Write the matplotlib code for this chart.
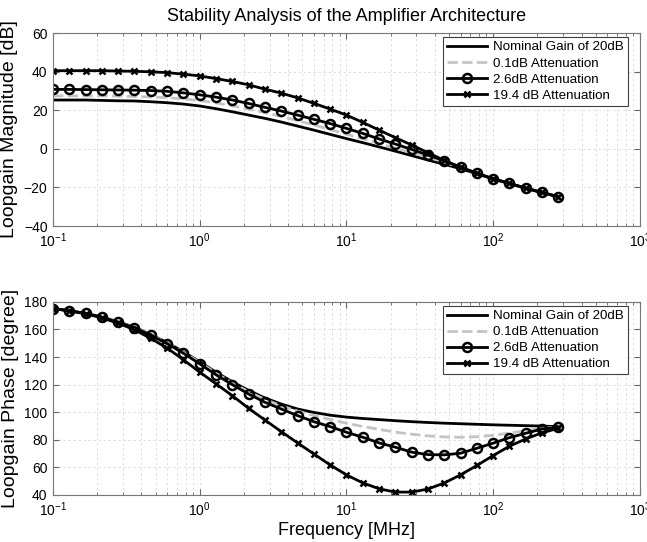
import matplotlib
matplotlib.use("Agg")
import matplotlib.pyplot as plt
from matplotlib.ticker import LogLocator, NullFormatter

plt.rcParams['font.family'] = ['Liberation Sans', 'DejaVu Sans']
plt.rcParams['mathtext.fontset'] = 'custom'
plt.rcParams['mathtext.rm'] = 'Liberation Sans'
plt.rcParams['mathtext.it'] = 'Liberation Sans:italic'

# sweep frequencies [MHz]
freq = [0.1, 0.129, 0.167, 0.215, 0.278, 0.359, 0.464, 0.599, 0.774, 1.0,
        1.29, 1.67, 2.15, 2.78, 3.59, 4.64, 5.99, 7.74, 10.0, 12.9,
        16.7, 21.5, 27.8, 35.9, 46.4, 59.9, 77.4, 100.0, 129.0, 167.0,
        215.0, 278.0]

labels = ['Nominal Gain of 20dB', '0.1dB Attenuation',
          '2.6dB Attenuation', '19.4 dB Attenuation']

# loop gain magnitude [dB]
mag_nom = [25.3, 25.3, 25.3, 25.1, 24.9, 24.8, 24.4, 23.9, 23.2, 22.2,
           20.8, 19.2, 17.5, 15.8, 13.9, 11.8, 9.7, 7.5, 5.3, 3.2,
           1.0, -1.2, -3.5, -5.8, -8.0, -10.3, -12.9, -15.6, -18.0, -20.5,
           -22.7, -24.9]
mag_01 = [27.5, 27.5, 27.4, 27.4, 27.3, 27.1, 26.9, 26.5, 25.9, 25.0,
          23.8, 22.3, 20.6, 18.8, 16.8, 14.6, 12.4, 10.0, 7.6, 5.2,
          2.8, 0.4, -2.0, -4.4, -6.8, -9.8, -12.7, -15.6, -18.0, -20.5,
          -22.7, -24.9]
mag_26 = [30.8, 30.8, 30.7, 30.6, 30.5, 30.4, 30.2, 29.8, 29.0, 28.0,
          26.8, 25.3, 23.5, 21.5, 19.6, 17.5, 15.3, 13.1, 10.6, 8.0,
          5.1, 2.5, -0.3, -3.2, -6.2, -9.5, -12.6, -15.5, -17.9, -20.4,
          -22.6, -24.8]
mag_194 = [40.5, 40.5, 40.5, 40.5, 40.3, 40.2, 39.9, 39.5, 38.7, 37.8,
           36.4, 34.9, 33.2, 30.9, 28.9, 26.4, 23.6, 20.6, 17.5, 13.7,
           9.7, 5.8, 2.0, -2.0, -6.0, -9.6, -12.7, -15.6, -17.9, -20.4,
           -22.6, -24.8]

# loop gain phase [degree]
ph_nom = [175.2, 173.6, 171.7, 169.0, 165.5, 161.6, 156.3, 150.5, 143.8, 136.5,
          129.0, 122.0, 115.8, 110.3, 105.9, 102.3, 99.8, 97.8, 96.4, 95.4,
          94.6, 93.8, 93.1, 92.5, 92.0, 91.6, 91.2, 90.8, 90.5, 90.2,
          89.9, 89.5]
ph_01 = [175.2, 173.6, 171.7, 169.0, 165.4, 161.5, 156.1, 150.3, 143.4, 136.0,
         128.3, 121.2, 114.8, 109.2, 104.6, 100.8, 97.5, 94.7, 92.0, 89.6,
         87.5, 85.5, 84.0, 82.8, 82.0, 81.8, 82.2, 83.2, 84.8, 86.6,
         88.3, 89.3]
ph_26 = [175.2, 173.6, 171.6, 168.8, 165.2, 161.3, 155.7, 149.7, 142.7, 135.0,
         127.1, 119.9, 113.2, 107.2, 102.3, 97.5, 93.1, 89.5, 85.4, 81.8,
         77.7, 74.6, 71.0, 69.2, 69.0, 70.2, 73.8, 77.5, 81.5, 84.7,
         87.8, 89.1]
ph_194 = [175.2, 173.4, 171.4, 168.4, 164.5, 159.8, 153.5, 146.5, 138.0, 129.0,
          120.6, 111.9, 102.8, 94.3, 85.9, 77.7, 69.7, 61.7, 54.5, 48.7,
          44.4, 42.0, 42.0, 44.2, 48.6, 54.5, 61.3, 68.5, 75.3, 80.6,
          85.0, 88.3]


def draw(ax, nom, att01, att26, att194):
    ax.semilogx(freq, nom, color='black', lw=2.0, label=labels[0])
    ax.semilogx(freq, att01, color='#c4c4c4', lw=2.0, ls='--', label=labels[1])
    ax.semilogx(freq, att26, color='black', lw=2.0, marker='o', ms=6.5,
                mfc='none', mew=1.8, label=labels[2])
    ax.semilogx(freq, att194, color='black', lw=2.0, marker='x', ms=4.5,
                mew=1.8, label=labels[3])
    ax.set_xlim(0.1, 1000)
    ax.xaxis.set_major_locator(LogLocator(base=10, numticks=10))
    ax.xaxis.set_minor_locator(LogLocator(base=10, subs=range(2, 10), numticks=20))
    ax.xaxis.set_minor_formatter(NullFormatter())
    ax.grid(True, which='major', color='#dadada', ls=(0, (3, 3)), lw=0.6)
    ax.grid(True, which='minor', axis='x', color='#dadada', ls=(0, (3, 3)), lw=0.6)
    ax.tick_params(which='both', direction='in', top=True, right=True,
                   labelsize=10, colors='#666666', labelcolor='black')
    ax.tick_params(which='major', length=4, pad=4)
    ax.tick_params(which='minor', length=2)
    for s in ax.spines.values():
        s.set_color('#777777')
    leg = ax.legend(loc='upper right', bbox_to_anchor=(0.9796, 0.979),
                    borderaxespad=0, fontsize=9.6, handlelength=3.0,
                    fancybox=False, framealpha=1, labelspacing=0.28,
                    handletextpad=0.45, borderpad=0.3)
    leg.get_frame().set_edgecolor('#404040')
    leg.get_frame().set_linewidth(0.8)


fig = plt.figure(figsize=(6.47, 5.42), dpi=100)
ax1 = fig.add_axes([0.082, 0.583, 0.907, 0.356])
ax2 = fig.add_axes([0.082, 0.087, 0.907, 0.356])

draw(ax1, mag_nom, mag_01, mag_26, mag_194)
ax1.set_ylim(-40, 60)
ax1.set_yticks([-40, -20, 0, 20, 40, 60])
ax1.set_ylabel('Loopgain Magnitude [dB]', fontsize=14, labelpad=4)
ax1.set_title('Stability Analysis of the Amplifier Architecture', fontsize=13, pad=9)

draw(ax2, ph_nom, ph_01, ph_26, ph_194)
ax2.set_ylim(40, 180)
ax2.set_yticks(range(40, 181, 20))
ax2.set_ylabel('Loopgain Phase [degree]', fontsize=14, labelpad=4)
ax2.set_xlabel('Frequency [MHz]', fontsize=13, labelpad=2)

fig.savefig('out.png', dpi=100)
